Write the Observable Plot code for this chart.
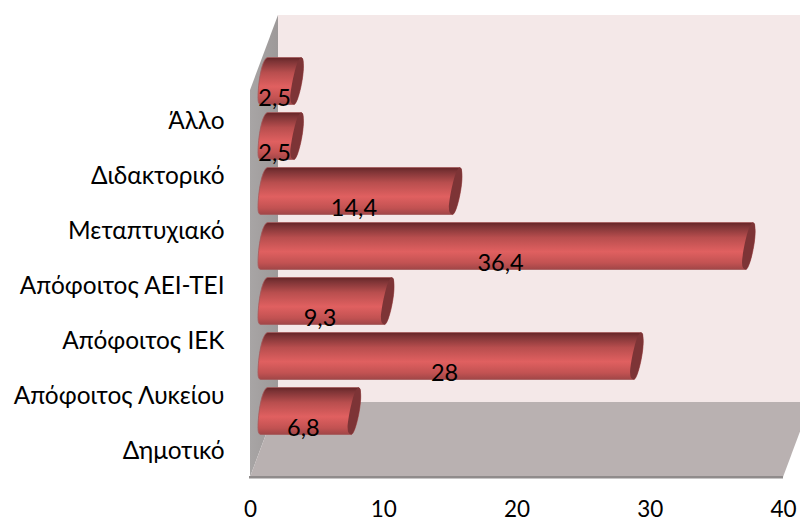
<!DOCTYPE html>
<html>
<head>
<meta charset="utf-8">
<script src="https://cdn.jsdelivr.net/npm/d3@7"></script>
<script src="https://cdn.jsdelivr.net/npm/@observablehq/plot@0.6"></script>
<style>
  html, body { margin: 0; padding: 0; background: #fff; }
  svg { display: block; }
</style>
</head>
<body>
<div id="chart"></div>
<script>
const categories = ["Άλλο", "Διδακτορικό", "Μεταπτυχιακό", "Απόφοιτος ΑΕΙ-ΤΕΙ", "Απόφοιτος ΙΕΚ", "Απόφοιτος Λυκείου", "Δημοτικό"];
const values = [2.5, 2.5, 14.4, 36.4, 9.3, 28, 6.8];
const valueLabels = ["2,5", "2,5", "14,4", "36,4", "9,3", "28", "6,8"];
const xTicks = [0, 10, 20, 30, 40];

const rows = categories.map((category, i) => ({category, value: values[i], label: valueLabels[i]}));
const FONT = "Lato, 'Noto Sans', sans-serif";
const NS = "http://www.w3.org/2000/svg";

// The box has a depth; bars sit halfway along it.
const depth = {x: 28, y: 75};
const mid = {x: depth.x / 2, y: depth.y / 2};

function poly(parent, points, fill) {
  const p = document.createElementNS(NS, "polygon");
  p.setAttribute("points", points.map((q) => q.join(",")).join(" "));
  p.setAttribute("fill", fill);
  parent.appendChild(p);
  return p;
}

// Back wall, side wall and floor of the box, placed from the position scales.
function box(index, scales, channels, dimensions) {
  const g = document.createElementNS(NS, "g");
  const x0 = scales.x(0), x1 = scales.x(40);
  const bottom = dimensions.height - dimensions.marginBottom;
  const top = dimensions.marginTop;
  poly(g, [[x0 + depth.x, top - depth.y], [x1 + depth.x, top - depth.y], [x1 + depth.x, bottom - depth.y], [x0 + depth.x, bottom - depth.y]], "#f4e8e8");
  poly(g, [[x0, top], [x0 + depth.x, top - depth.y], [x0 + depth.x, bottom - depth.y], [x0, bottom]], "url(#sideWall)");
  poly(g, [[x0, bottom], [x0 + depth.x, bottom - depth.y], [x1 + depth.x, bottom - depth.y], [x1, bottom]], "#b9b1b1");
  poly(g, [[x0 - 1, bottom - 1], [x1, bottom - 1], [x1, bottom + 1.5], [x0 - 1, bottom + 1.5]], "#8f8b8b");
  return g;
}

// Skewed outlines of a bar's body and of its end cap, from the bar's rect.
function bodyPath(x0, x1, yt, yb) {
  return `M${x0 + 11},${yb} L${x1 + 11},${yb} C${x1 + 15},${yb - 2} ${x1 + 21},${yt + 18} ${x1 + 20},${yt + 6}
    Q${x1 + 20},${yt} ${x1 + 18},${yt} L${x0 + 18},${yt} C${x0 + 12},${yt} ${x0 + 8},${yb - 22} ${x0 + 8},${yb - 6} Q${x0 + 8},${yb} ${x0 + 11},${yb} Z`;
}
function capPath(x1, yt, yb) {
  return `M${x1 + 11},${yb} C${x1 + 15},${yb - 2} ${x1 + 21},${yt + 18} ${x1 + 20},${yt + 6}
    Q${x1 + 20},${yt} ${x1 + 18},${yt} C${x1 + 13},${yt} ${x1 + 7},${yb - 14} ${x1 + 7},${yb - 7} Q${x1 + 7},${yb} ${x1 + 11},${yb} Z`;
}

function cylinders(index, scales, channels, dimensions, context, next) {
  const g = next(index, scales, channels, dimensions, context);
  for (const rect of [...g.querySelectorAll("rect")]) {
    const x0 = +rect.getAttribute("x");
    const x1 = x0 + +rect.getAttribute("width");
    const yt = +rect.getAttribute("y") - mid.y;
    const yb = yt + +rect.getAttribute("height");
    const body = document.createElementNS(NS, "path");
    body.setAttribute("d", bodyPath(x0, x1, yt, yb));
    body.setAttribute("fill", "url(#barBody)");
    body.setAttribute("stroke", "#a45a5c");
    body.setAttribute("stroke-width", "0.8");
    const cap = document.createElementNS(NS, "path");
    cap.setAttribute("d", capPath(x1, yt, yb));
    cap.setAttribute("fill", "#7d3436");
    rect.replaceWith(body, cap);
  }
  return g;
}

const plot = Plot.plot({
  width: 800,
  height: 522,
  marginLeft: 250,
  marginRight: 17,
  marginTop: 90,
  marginBottom: 45,
  style: {fontFamily: FONT, background: "transparent", overflow: "hidden"},
  x: {domain: [0, 40], axis: null},
  y: {domain: categories, padding: 0, axis: null},
  marks: [
    box,
    Plot.barX(rows, {x: "value", y: "category", insetTop: 4, insetBottom: 4, render: cylinders}),
    Plot.axisX({ticks: xTicks, tickSize: 0, tickPadding: 24, fontSize: 22.5, fill: "#000", anchor: "bottom", label: null, tickFormat: (d) => String(d)}),
    Plot.axisY({tickSize: 0, tickPadding: 26, fontSize: 24.4, fill: "#000", anchor: "left", label: null, dy: 2}),
    Plot.text(rows, {x: (d) => d.value / 2, y: "category", text: "label", dx: mid.x / 2 + 0.5, dy: -21, fontSize: 23.5, fill: "#000"})
  ]
});

// Gradients used by the wall and the bars.
const defs = document.createElementNS(NS, "defs");
defs.innerHTML = `
  <linearGradient id="barBody" x1="0" y1="0" x2="0" y2="1">
    <stop offset="0" stop-color="#652426"/>
    <stop offset="0.08" stop-color="#7c3335"/>
    <stop offset="0.32" stop-color="#b84e4e"/>
    <stop offset="0.62" stop-color="#e06060"/>
    <stop offset="0.86" stop-color="#c25252"/>
    <stop offset="1" stop-color="#a04647"/>
  </linearGradient>
  <linearGradient id="sideWall" x1="0" y1="0" x2="1" y2="0">
    <stop offset="0" stop-color="#a8a5a5"/>
    <stop offset="1" stop-color="#9d9999"/>
  </linearGradient>`;
plot.prepend(defs);
document.getElementById("chart").appendChild(plot);
</script>
</body>
</html>
